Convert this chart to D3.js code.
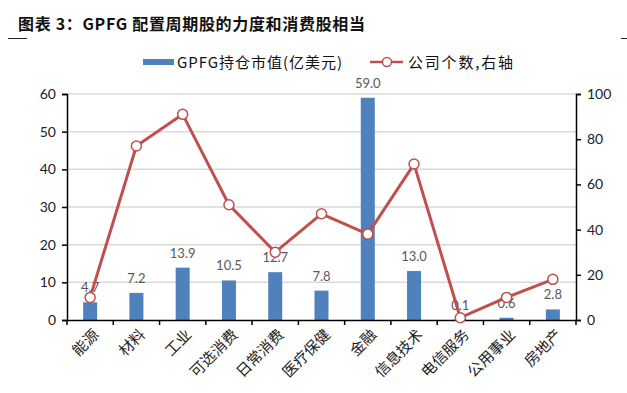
<!DOCTYPE html>
<html>
<head>
<meta charset="utf-8">
<script src="https://cdn.jsdelivr.net/npm/d3@7"></script>
<style>
  body { margin: 0; background: #fff; }
  svg { display: block; }
</style>
</head>
<body>
<div id="chart"></div>
<script>
// Data
var categories = ["能源", "材料", "工业", "可选消费", "日常消费", "医疗保健", "金融", "信息技术", "电信服务", "公用事业", "房地产"];
var holdings = [4.7, 7.2, 13.9, 10.5, 12.7, 7.8, 59.0, 13.0, 0.1, 0.6, 2.8];
var companies = [10, 77, 91, 51, 30, 47, 38, 69, 1, 10, 18];
var leftTicks = [0, 10, 20, 30, 40, 50, 60];
var rightTicks = [0, 20, 40, 60, 80, 100];

var width = 627, height = 393;
var margin = { top: 94, right: 51, bottom: 73, left: 67 };
var innerW = width - margin.left - margin.right,
    innerH = height - margin.top - margin.bottom;

var barColor = "#4f81bd", lineColor = "#c0504d";
var numFont = "Lato, 'Open Sans', sans-serif";
var cjkFont = "'Noto Sans CJK SC', sans-serif";

var svg = d3.select("#chart").append("svg")
    .attr("width", width)
    .attr("height", height);

// Title and its little underline marks
svg.append("text")
    .attr("x", 18).attr("y", 30)
    .attr("textLength", 347)
    .attr("lengthAdjust", "spacing")
    .style("font-family", cjkFont)
    .style("font-weight", "bold")
    .style("font-size", "16px")
    .attr("fill", "#111")
    .text("图表 3：GPFG 配置周期股的力度和消费股相当");
svg.append("line").attr("x1", 8).attr("x2", 27).attr("y1", 38.5).attr("y2", 38.5)
    .attr("stroke", "#222").attr("stroke-width", 1);
svg.append("line").attr("x1", 621).attr("x2", 627).attr("y1", 38.5).attr("y2", 38.5)
    .attr("stroke", "#222").attr("stroke-width", 1);

// Legend
var legend = svg.append("g").style("font-family", cjkFont).style("font-size", "15px");
legend.append("rect").attr("x", 143).attr("y", 59).attr("width", 31).attr("height", 6).attr("fill", barColor);
legend.append("text").attr("x", 177).attr("y", 68)
    .attr("textLength", 165).attr("lengthAdjust", "spacing")
    .attr("fill", "#111").text("GPFG持仓市值(亿美元)");
legend.append("line").attr("x1", 370).attr("x2", 403).attr("y1", 62).attr("y2", 62)
    .attr("stroke", lineColor).attr("stroke-width", 2.5);
legend.append("circle").attr("cx", 387).attr("cy", 62).attr("r", 4.5)
    .attr("fill", "#fff").attr("stroke", lineColor).attr("stroke-width", 1.5);
legend.append("text").attr("x", 408).attr("y", 68)
    .attr("textLength", 105).attr("lengthAdjust", "spacing")
    .attr("fill", "#111").text("公司个数,右轴");

var g = svg.append("g").attr("transform", "translate(" + margin.left + "," + margin.top + ")");

var x = d3.scaleBand().domain(categories).range([0, innerW]).padding(0);
var yL = d3.scaleLinear().domain([0, 60]).range([innerH, 0]);
var yR = d3.scaleLinear().domain([0, 100]).range([innerH, 0]);

// Gridlines
g.selectAll(".grid").data(leftTicks.slice(1)).enter().append("line")
    .attr("x1", 0).attr("x2", innerW)
    .attr("y1", function (d) { return yL(d); })
    .attr("y2", function (d) { return yL(d); })
    .attr("stroke", "#d9d9d9").attr("stroke-width", 1.5);

// Bars
var barW = 14;
g.selectAll(".bar").data(holdings).enter().append("rect")
    .attr("x", function (d, i) { return x(categories[i]) + x.bandwidth() / 2 - barW / 2; })
    .attr("y", function (d) { return yL(d); })
    .attr("width", barW)
    .attr("height", function (d) { return innerH - yL(d); })
    .attr("fill", barColor);

// Bar labels
g.selectAll(".blabel").data(holdings).enter().append("text")
    .attr("x", function (d, i) { return x(categories[i]) + x.bandwidth() / 2; })
    .attr("y", function (d) { return yL(d) - 10; })
    .attr("text-anchor", "middle")
    .style("font-family", numFont).style("font-size", "13px")
    .attr("fill", "#595959")
    .text(function (d) { return d.toFixed(1); });

// Axes
var axisL = g.append("g").call(d3.axisLeft(yL).tickValues(leftTicks).tickSize(5).tickPadding(6));
var axisR = g.append("g").attr("transform", "translate(" + innerW + ",0)")
    .call(d3.axisRight(yR).tickValues(rightTicks).tickSize(5).tickPadding(6));
var axisB = g.append("g").attr("transform", "translate(0," + innerH + ")")
    .call(d3.axisBottom(x).tickSize(0).tickFormat(""));

[axisL, axisR].forEach(function (a) {
    a.select(".domain").attr("stroke", "#000").attr("stroke-width", 1.5);
    a.selectAll(".tick line").attr("stroke", "#000").attr("stroke-width", 1.5);
    a.selectAll("text").style("font-family", numFont).style("font-size", "14px").attr("fill", "#222");
});
axisB.select(".domain").attr("stroke", "#000").attr("stroke-width", 1.5);

// Category separator ticks on bottom axis
var bounds = d3.range(categories.length + 1);
g.selectAll(".xtick").data(bounds).enter().append("line")
    .attr("x1", function (d) { return d * x.step(); })
    .attr("x2", function (d) { return d * x.step(); })
    .attr("y1", innerH).attr("y2", innerH + 5)
    .attr("stroke", "#000").attr("stroke-width", 1.5);

// Rotated category labels
g.selectAll(".xlabel").data(categories).enter().append("text")
    .attr("transform", function (d) {
        return "translate(" + (x(d) + x.bandwidth() / 2 + 6) + "," + (innerH + 12) + ") rotate(-45)";
    })
    .attr("text-anchor", "end")
    .attr("dy", "0.35em")
    .style("font-family", cjkFont).style("font-size", "15px")
    .attr("fill", "#222")
    .text(function (d) { return d; });

// Line series on right axis
var line = d3.line()
    .x(function (d, i) { return x(categories[i]) + x.bandwidth() / 2; })
    .y(function (d) { return yR(d); });

g.append("path").datum(companies)
    .attr("d", line)
    .attr("fill", "none")
    .attr("stroke", lineColor)
    .attr("stroke-width", 3)
    .attr("stroke-linejoin", "round");

g.selectAll(".dot").data(companies).enter().append("circle")
    .attr("cx", function (d, i) { return x(categories[i]) + x.bandwidth() / 2; })
    .attr("cy", function (d) { return yR(d); })
    .attr("r", 5)
    .attr("fill", "#fff")
    .attr("stroke", lineColor)
    .attr("stroke-width", 1.5);
</script>
</body>
</html>
